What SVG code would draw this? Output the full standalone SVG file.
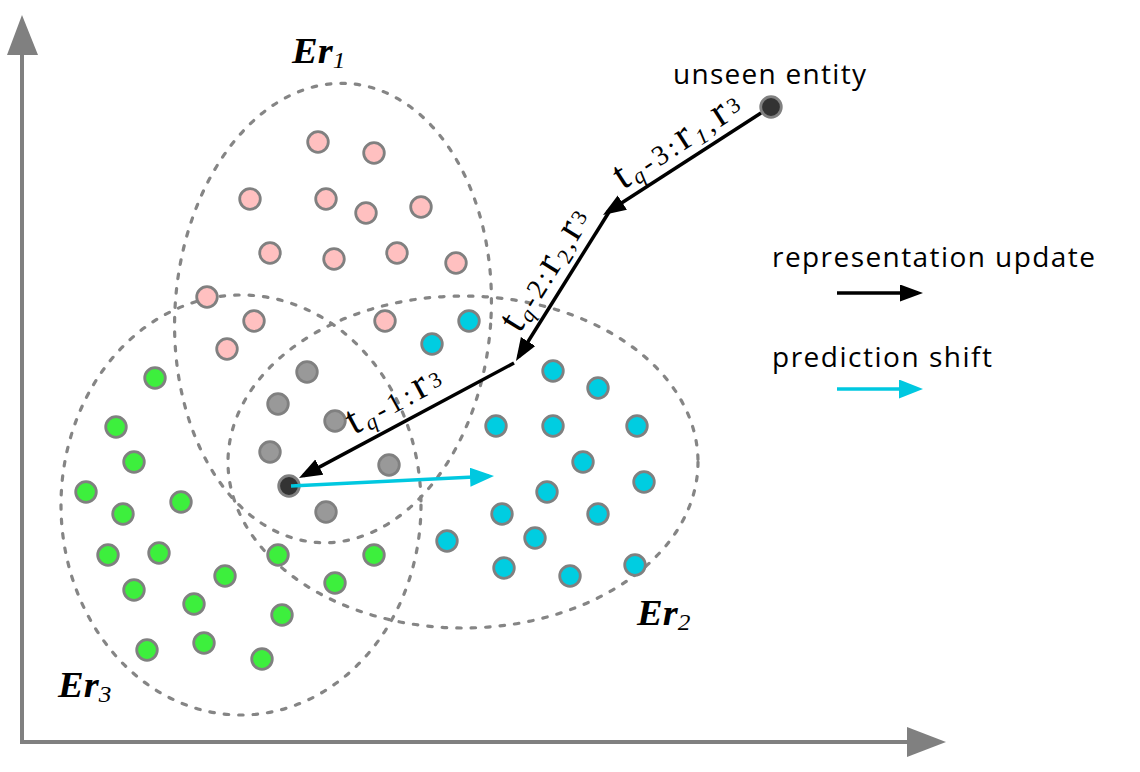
<svg xmlns="http://www.w3.org/2000/svg" width="1140" height="772" viewBox="0 0 1140 772">
<style>
.bg{fill:#fff}
.ax{stroke:#808080;stroke-width:4;fill:none}
.axh{fill:#808080}
.cl{fill:none;stroke:#858585;stroke-width:3.2;stroke-dasharray:4.5 10;stroke-linecap:round}
.n{stroke:#808080;stroke-width:2.8}
.pk{fill:#FFC0C0}
.gr{fill:#3DEF3D}
.cy{fill:#00CDE1}
.gy{fill:#999999}
.dk{fill:#333333}
.blk{stroke:#000;stroke-width:3.5;fill:none;marker-end:url(#ab)}
.cyl{stroke:#00C8E0;stroke-width:3.5;fill:none;marker-end:url(#ac)}
.er{font-family:"Liberation Serif",serif;font-style:italic;font-weight:bold;font-size:35px;fill:#000}
.sub{font-size:23px;font-weight:normal}
.lab{font-family:"Liberation Serif",serif;font-size:28px;fill:#000}
.big{font-size:42px}
.sm{font-size:22px}
.it{font-style:italic}
.lg{font-family:"Open Sans","Liberation Sans",sans-serif;font-size:28px;fill:#000}
</style>
<defs>
<marker id="ab" markerUnits="userSpaceOnUse" markerWidth="24" markerHeight="18" refX="18" refY="8.5" orient="auto"><path d="M0,0 L23,8.5 L0,17 z" fill="#000"/></marker>
<marker id="ac" markerUnits="userSpaceOnUse" markerWidth="25" markerHeight="20" refX="19" refY="9.5" orient="auto"><path d="M0,0 L24,9.5 L0,19 z" fill="#00C8E0"/></marker>
</defs>
<rect class="bg" x="0" y="0" width="1140" height="772"/>
<g id="axes">
<line class="ax" x1="22" y1="744" x2="22" y2="52"/>
<polygon class="axh" points="22,15 38,55 7,55"/>
<line class="ax" x1="20" y1="742" x2="908" y2="742"/>
<polygon class="axh" points="946,742 907,727 907,757"/>
</g>
<g id="clusters">
<ellipse id="Er1-region" class="cl" cx="333" cy="313" rx="158" ry="230" transform="rotate(4 333 313)"/>
<ellipse id="Er2-region" class="cl" cx="463" cy="462" rx="235" ry="166"/>
<ellipse id="Er3-region" class="cl" cx="241" cy="505" rx="180" ry="210"/>
</g>
<g id="cluster-labels">
<text class="er" transform="translate(292,63) scale(1.1,1)">Er<tspan class="sub" dy="5">1</tspan></text>
<text class="er" transform="translate(637,625) scale(1.1,1)">Er<tspan class="sub" dy="5">2</tspan></text>
<text class="er" transform="translate(58,697) scale(1.1,1)">Er<tspan class="sub" dy="5">3</tspan></text>
</g>
<g id="nodes">
<g id="p1"><circle class="n pk" cx="318" cy="142" r="10.3"/></g>
<g id="p2"><circle class="n pk" cx="374" cy="153" r="10.3"/></g>
<g id="p3"><circle class="n pk" cx="250" cy="199" r="10.3"/></g>
<g id="p4"><circle class="n pk" cx="326" cy="199" r="10.3"/></g>
<g id="p5"><circle class="n pk" cx="366" cy="213" r="10.3"/></g>
<g id="p6"><circle class="n pk" cx="421" cy="207" r="10.3"/></g>
<g id="p7"><circle class="n pk" cx="270" cy="253" r="10.3"/></g>
<g id="p8"><circle class="n pk" cx="334" cy="259" r="10.3"/></g>
<g id="p9"><circle class="n pk" cx="397" cy="253" r="10.3"/></g>
<g id="p10"><circle class="n pk" cx="456" cy="263" r="10.3"/></g>
<g id="p11"><circle class="n pk" cx="207" cy="297" r="10.3"/></g>
<g id="p12"><circle class="n pk" cx="254" cy="321" r="10.3"/></g>
<g id="p13"><circle class="n pk" cx="385" cy="321" r="10.3"/></g>
<g id="p14"><circle class="n pk" cx="227" cy="349" r="10.3"/></g>
<g id="c1"><circle class="n cy" cx="469" cy="321" r="10.3"/></g>
<g id="c2"><circle class="n cy" cx="432" cy="344" r="10.3"/></g>
<g id="c3"><circle class="n cy" cx="553" cy="371" r="10.3"/></g>
<g id="c4"><circle class="n cy" cx="598" cy="388" r="10.3"/></g>
<g id="c5"><circle class="n cy" cx="496" cy="426" r="10.3"/></g>
<g id="c6"><circle class="n cy" cx="553" cy="426" r="10.3"/></g>
<g id="c7"><circle class="n cy" cx="637" cy="426" r="10.3"/></g>
<g id="c8"><circle class="n cy" cx="583" cy="462" r="10.3"/></g>
<g id="c9"><circle class="n cy" cx="547" cy="492" r="10.3"/></g>
<g id="c10"><circle class="n cy" cx="644" cy="482" r="10.3"/></g>
<g id="c11"><circle class="n cy" cx="502" cy="514" r="10.3"/></g>
<g id="c12"><circle class="n cy" cx="598" cy="514" r="10.3"/></g>
<g id="c13"><circle class="n cy" cx="447" cy="541" r="10.3"/></g>
<g id="c14"><circle class="n cy" cx="535" cy="538" r="10.3"/></g>
<g id="c15"><circle class="n cy" cx="504" cy="568" r="10.3"/></g>
<g id="c16"><circle class="n cy" cx="570" cy="576" r="10.3"/></g>
<g id="c17"><circle class="n cy" cx="635" cy="565" r="10.3"/></g>
<g id="g1"><circle class="n gr" cx="155" cy="378" r="10.3"/></g>
<g id="g2"><circle class="n gr" cx="116" cy="427" r="10.3"/></g>
<g id="g3"><circle class="n gr" cx="134" cy="462" r="10.3"/></g>
<g id="g4"><circle class="n gr" cx="86" cy="492" r="10.3"/></g>
<g id="g5"><circle class="n gr" cx="123" cy="514" r="10.3"/></g>
<g id="g6"><circle class="n gr" cx="181" cy="502" r="10.3"/></g>
<g id="g7"><circle class="n gr" cx="108" cy="555" r="10.3"/></g>
<g id="g8"><circle class="n gr" cx="159" cy="553" r="10.3"/></g>
<g id="g9"><circle class="n gr" cx="278" cy="555" r="10.3"/></g>
<g id="g10"><circle class="n gr" cx="374" cy="555" r="10.3"/></g>
<g id="g11"><circle class="n gr" cx="225" cy="576" r="10.3"/></g>
<g id="g12"><circle class="n gr" cx="134" cy="590" r="10.3"/></g>
<g id="g13"><circle class="n gr" cx="335" cy="583" r="10.3"/></g>
<g id="g14"><circle class="n gr" cx="194" cy="604" r="10.3"/></g>
<g id="g15"><circle class="n gr" cx="282" cy="615" r="10.3"/></g>
<g id="g16"><circle class="n gr" cx="147" cy="650" r="10.3"/></g>
<g id="g17"><circle class="n gr" cx="204" cy="643" r="10.3"/></g>
<g id="g18"><circle class="n gr" cx="262" cy="659" r="10.3"/></g>
<g id="s1"><circle class="n gy" cx="307" cy="372" r="10.3"/></g>
<g id="s2"><circle class="n gy" cx="278" cy="404" r="10.3"/></g>
<g id="s3"><circle class="n gy" cx="335" cy="421" r="10.3"/></g>
<g id="s4"><circle class="n gy" cx="270" cy="452" r="10.3"/></g>
<g id="s5"><circle class="n gy" cx="389" cy="465" r="10.3"/></g>
<g id="s6"><circle class="n gy" cx="326" cy="512" r="10.3"/></g>
<g id="target"><circle class="n dk" cx="289" cy="486" r="10.3"/></g>
<g id="unseen"><circle class="n dk" cx="771" cy="107" r="10.3"/>
<text class="lg" x="673" y="84" textLength="193">unseen entity</text></g>
</g>
<g id="connectors">
<path class="blk" d="M761,113 L607.2,212.3"/>
<path class="blk" d="M609,212 L518.6,356.8"/>
<path class="blk" d="M514,363 L303.4,475.6"/>
<path class="cyl" d="M291,486 L489,476.2"/>
<text class="lab" transform="translate(623,190) rotate(-32.8)" textLength="144"><tspan class="big">t</tspan><tspan class="sm it" dy="4">q</tspan><tspan dy="-4">-3:</tspan><tspan class="big">r</tspan><tspan class="sm it" dy="5">1</tspan><tspan dy="-5">,</tspan><tspan class="big">r</tspan><tspan class="sm" dy="-4">3</tspan></text>
<text class="lab" transform="translate(519.5,334) rotate(-58)" textLength="136"><tspan class="big">t</tspan><tspan class="sm it" dy="4">q</tspan><tspan dy="-4">-2:</tspan><tspan class="big">r</tspan><tspan class="sm" dy="5">2</tspan><tspan dy="-5">,</tspan><tspan class="big">r</tspan><tspan class="sm" dy="-4">3</tspan></text>
<text class="lab" transform="translate(354,435) rotate(-28.2)" textLength="103"><tspan class="big">t</tspan><tspan class="sm it" dy="4">q</tspan><tspan dy="-4">-1:</tspan><tspan class="big">r</tspan><tspan class="sm" dy="-3">3</tspan></text>
</g>
<g id="legend">
<text class="lg" x="772" y="267" textLength="323">representation update</text>
<path class="blk" d="M837,293 L918,293"/>
<text class="lg" x="772" y="367" textLength="220">prediction shift</text>
<path class="cyl" d="M837,389 L918,389"/>
</g>
</svg>
